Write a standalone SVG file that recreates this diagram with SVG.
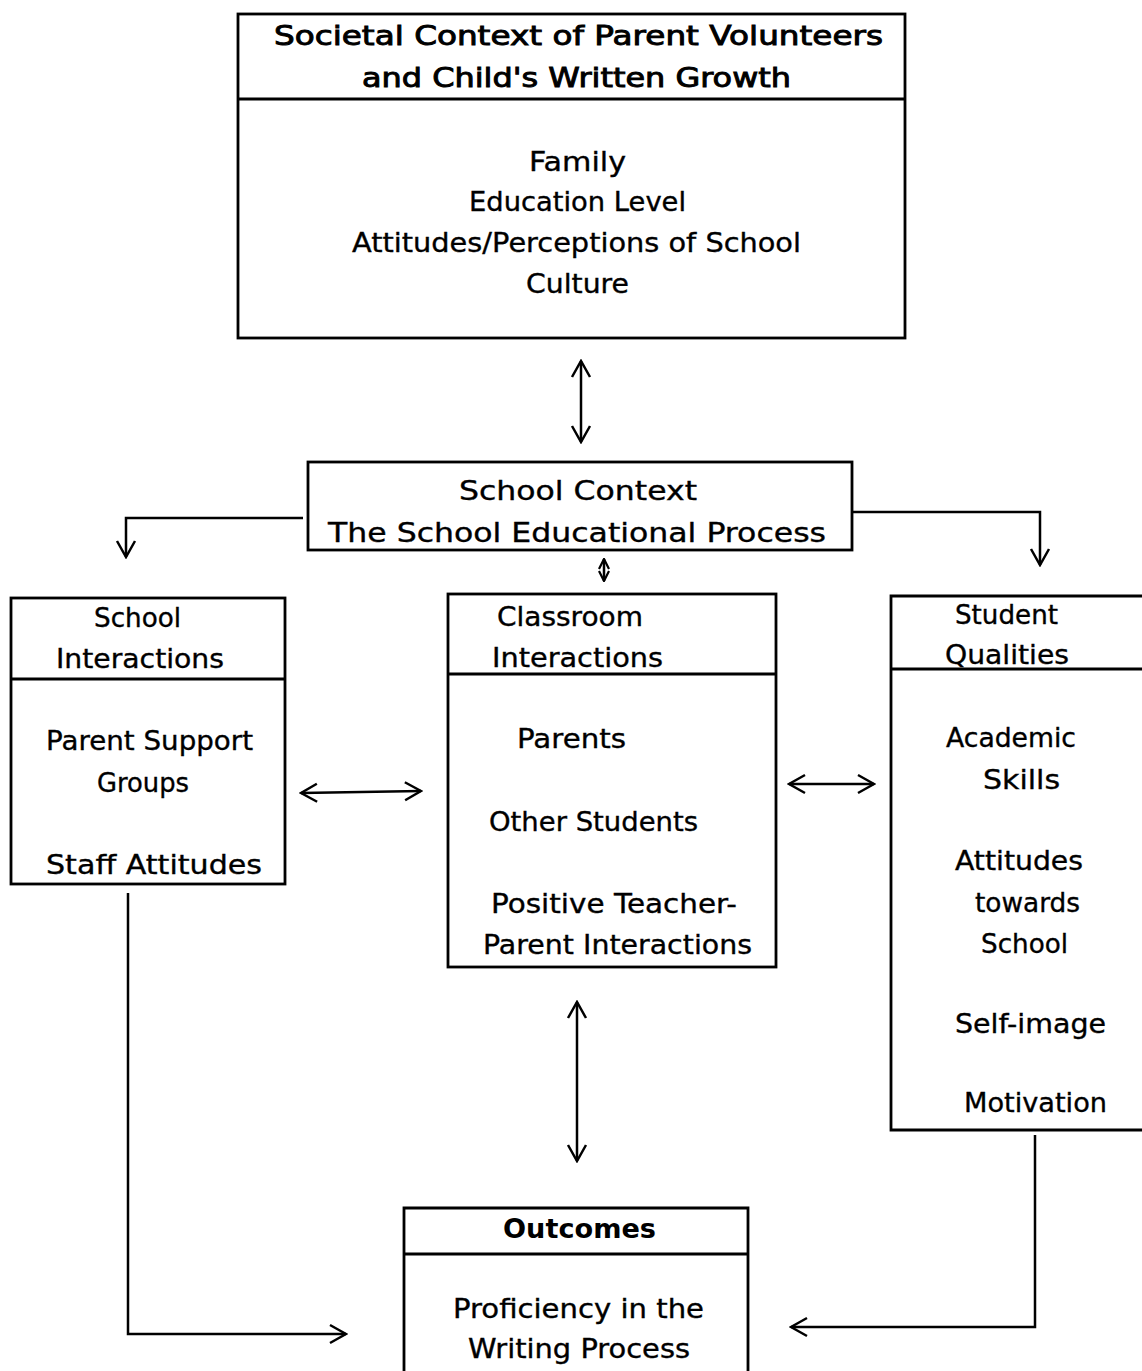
<svg xmlns="http://www.w3.org/2000/svg" width="1142" height="1371" viewBox="0 0 1142 1371">
<style>
.box{fill:none;stroke:#000;stroke-width:2.8}
.div{stroke:#000;stroke-width:2.8}
.t{font-family:"DejaVu Sans","Liberation Sans",sans-serif;font-size:26px;fill:#000;stroke:#000;stroke-width:0.35}
.h{stroke-width:0.9}
.b{font-weight:bold;stroke-width:0}
.c{fill:none;stroke:#000;stroke-width:2.5}
</style>
<defs>
<marker id="ah" viewBox="0 0 20 22" refX="18" refY="11" markerWidth="20" markerHeight="22" markerUnits="userSpaceOnUse" orient="auto-start-reverse">
<path d="M2,2 L18,11 L2,20" fill="none" stroke="#000" stroke-width="2.5"/>
</marker>
<marker id="ahs" viewBox="0 0 12 12" refX="11" refY="6" markerWidth="12" markerHeight="12" markerUnits="userSpaceOnUse" orient="auto-start-reverse">
<path d="M1,1 L11,6 L1,11" fill="none" stroke="#000" stroke-width="2.2"/>
</marker>
</defs>
<rect width="1142" height="1371" fill="#fff"/>

<g id="societal">
<rect class="box" x="238" y="14" width="667" height="324"/>
<line class="div" x1="238" y1="99" x2="905" y2="99"/>
<text class="t h" x="274" y="45" textLength="609" lengthAdjust="spacingAndGlyphs">Societal Context of Parent Volunteers</text>
<text class="t h" x="362" y="87" textLength="429" lengthAdjust="spacingAndGlyphs">and Child's Written Growth</text>
<text class="t" x="529" y="171" textLength="97" lengthAdjust="spacingAndGlyphs">Family</text>
<text class="t" x="469" y="211" textLength="217" lengthAdjust="spacingAndGlyphs">Education Level</text>
<text class="t" x="352" y="252" textLength="449" lengthAdjust="spacingAndGlyphs">Attitudes/Perceptions of School</text>
<text class="t" x="526" y="293" textLength="103" lengthAdjust="spacingAndGlyphs">Culture</text>
</g>

<g id="school-context">
<rect class="box" x="308" y="462" width="544" height="88"/>
<text class="t" x="459" y="500" textLength="238" lengthAdjust="spacingAndGlyphs">School Context</text>
<text class="t" x="328" y="542" textLength="498" lengthAdjust="spacingAndGlyphs">The School Educational Process</text>
</g>

<g id="school-interactions">
<rect class="box" x="11" y="598" width="274" height="286"/>
<line class="div" x1="11" y1="679" x2="285" y2="679"/>
<text class="t" x="94" y="627" textLength="87" lengthAdjust="spacingAndGlyphs">School</text>
<text class="t" x="56" y="668" textLength="168" lengthAdjust="spacingAndGlyphs">Interactions</text>
<text class="t" x="46" y="750" textLength="207" lengthAdjust="spacingAndGlyphs">Parent Support</text>
<text class="t" x="97" y="792" textLength="92" lengthAdjust="spacingAndGlyphs">Groups</text>
<text class="t" x="46" y="874" textLength="216" lengthAdjust="spacingAndGlyphs">Staff Attitudes</text>
</g>

<g id="classroom-interactions">
<rect class="box" x="448" y="594" width="328" height="373"/>
<line class="div" x1="448" y1="674" x2="776" y2="674"/>
<text class="t" x="497" y="626" textLength="146" lengthAdjust="spacingAndGlyphs">Classroom</text>
<text class="t" x="492" y="667" textLength="171" lengthAdjust="spacingAndGlyphs">Interactions</text>
<text class="t" x="517" y="748" textLength="109" lengthAdjust="spacingAndGlyphs">Parents</text>
<text class="t" x="489" y="831" textLength="209" lengthAdjust="spacingAndGlyphs">Other Students</text>
<text class="t" x="491" y="913" textLength="246" lengthAdjust="spacingAndGlyphs">Positive Teacher-</text>
<text class="t" x="483" y="954" textLength="269" lengthAdjust="spacingAndGlyphs">Parent Interactions</text>
</g>

<g id="student-qualities">
<polyline class="box" points="1142,596 891,596 891,1130 1142,1130"/>
<line class="div" x1="891" y1="669" x2="1142" y2="669"/>
<text class="t" x="955" y="624" textLength="103" lengthAdjust="spacingAndGlyphs">Student</text>
<text class="t" x="945" y="664" textLength="124" lengthAdjust="spacingAndGlyphs">Qualities</text>
<text class="t" x="946" y="747" textLength="130" lengthAdjust="spacingAndGlyphs">Academic</text>
<text class="t" x="983" y="789" textLength="77" lengthAdjust="spacingAndGlyphs">Skills</text>
<text class="t" x="955" y="870" textLength="128" lengthAdjust="spacingAndGlyphs">Attitudes</text>
<text class="t" x="975" y="912" textLength="105" lengthAdjust="spacingAndGlyphs">towards</text>
<text class="t" x="981" y="953" textLength="87" lengthAdjust="spacingAndGlyphs">School</text>
<text class="t" x="955" y="1033" textLength="151" lengthAdjust="spacingAndGlyphs">Self-image</text>
<text class="t" x="964" y="1112" textLength="143" lengthAdjust="spacingAndGlyphs">Motivation</text>
</g>

<g id="outcomes">
<polyline class="box" points="404,1371 404,1208 748,1208 748,1371"/>
<line class="div" x1="404" y1="1254" x2="748" y2="1254"/>
<text class="t b" x="503" y="1238" textLength="153" lengthAdjust="spacingAndGlyphs">Outcomes</text>
<text class="t" x="453" y="1318" textLength="251" lengthAdjust="spacingAndGlyphs">Proficiency in the</text>
<text class="t" x="468" y="1358" textLength="222" lengthAdjust="spacingAndGlyphs">Writing Process</text>
</g>

<g id="connectors">
<line class="c" x1="581" y1="361" x2="581" y2="442" marker-start="url(#ah)" marker-end="url(#ah)"/>
<polyline class="c" points="303,518 126,518 126,557" marker-end="url(#ah)"/>
<polyline class="c" points="852,512 1040,512 1040,565" marker-end="url(#ah)"/>
<line class="c" x1="604" y1="559" x2="604" y2="581" marker-start="url(#ahs)" marker-end="url(#ahs)"/>
<line class="c" x1="301" y1="793" x2="421" y2="791" marker-start="url(#ah)" marker-end="url(#ah)"/>
<line class="c" x1="789" y1="784" x2="874" y2="784" marker-start="url(#ah)" marker-end="url(#ah)"/>
<line class="c" x1="577" y1="1002" x2="577" y2="1161" marker-start="url(#ah)" marker-end="url(#ah)"/>
<polyline class="c" points="128,893 128,1334 346,1334" marker-end="url(#ah)"/>
<polyline class="c" points="1035,1135 1035,1327 791,1327" marker-end="url(#ah)"/>
</g>
</svg>
